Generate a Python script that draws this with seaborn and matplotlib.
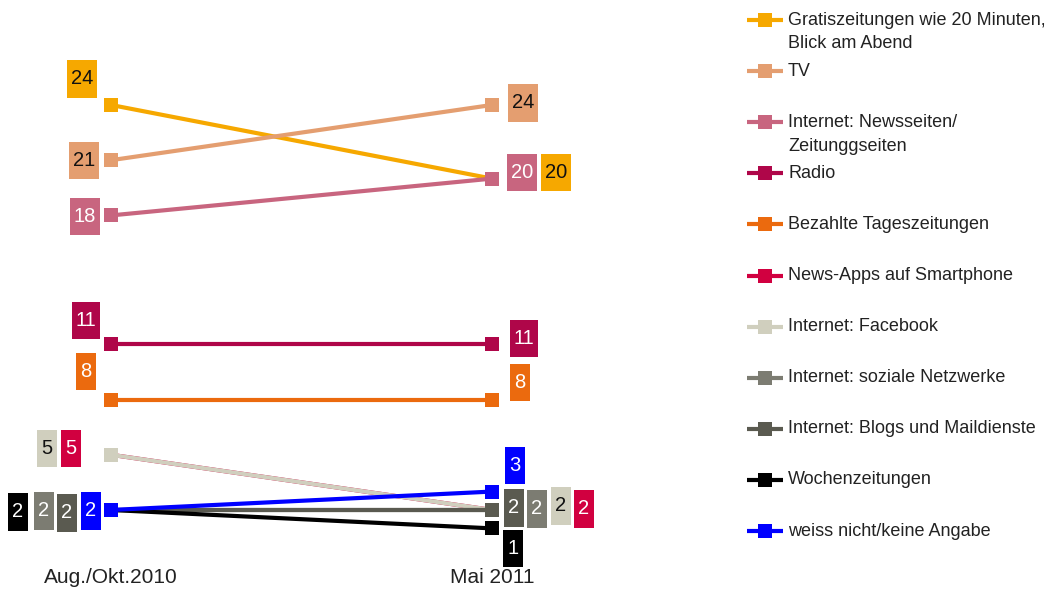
import numpy as np
import pandas as pd
import matplotlib
matplotlib.use("Agg")
import matplotlib.pyplot as plt
from matplotlib.path import Path
import seaborn as sns

# ==========================================
# Data
# ==========================================
periods = ["Aug./Okt.2010", "Mai 2011"]
series = [
    "Gratiszeitungen wie 20 Minuten,\nBlick am Abend",
    "TV",
    "Internet: Newsseiten/\nZeitunggseiten",
    "Radio",
    "Bezahlte Tageszeitungen",
    "News-Apps auf Smartphone",
    "Internet: Facebook",
    "Internet: soziale Netzwerke",
    "Internet: Blogs und Maildienste",
    "Wochenzeitungen",
    "weiss nicht/keine Angabe",
]
values_2010 = [24, 21, 18, 11, 8, 5, 5, 2, 2, 2, 2]
values_2011 = [20, 24, 20, 11, 8, 2, 2, 2, 2, 1, 3]

colors = ["#F6A800", "#E49E70", "#C8657F", "#AF0649", "#EB6A0E", "#D10040",
          "#D0CFBE", "#7C7C72", "#5A5A50", "#000000", "#0000FF"]
dark_text = {"#F6A800", "#E49E70", "#D0CFBE"}

# label offsets in pixels from the marker (left, right)
offsets_2010 = [(-29, 26), (-27, 0), (-26, -1), (-25, 24), (-25, 28), (-40, 6),
                (-64, 6), (-67, -1), (-44, -3), (-93, -2), (-20, -1)]
offsets_2011 = [(64, 6), (31, 2), (30, 6), (32, 6), (28, 17), (92, 1),
                (69, 4), (45, 1), (22, 2), (21, -20), (23, 26)]

df = pd.DataFrame({
    "series": series * 2,
    "t": [0] * len(series) + [1] * len(series),
    "value": values_2010 + values_2011,
})

sns.set_style("white")
plt.rcParams["font.family"] = ["Liberation Sans", "DejaVu Sans"]

W, H = 1049, 589
fig = plt.figure(figsize=(W / 100, H / 100), dpi=100)

# pixel -> data mapping
x0_px, x1_px = 111, 492
y0_px, unit_px = 546.8, 18.41
ax_bottom_px = 565
ax_w_px = 700
ax = fig.add_axes([0, (H - ax_bottom_px) / H, ax_w_px / W, ax_bottom_px / H])
ax.set_xlim(-x0_px / (x1_px - x0_px), (ax_w_px - x0_px) / (x1_px - x0_px))
ax.set_ylim((y0_px - ax_bottom_px) / unit_px, y0_px / unit_px)

sns.lineplot(data=df, x="t", y="value", hue="series", hue_order=series,
             palette=colors, marker="s", markersize=9.5, markeredgewidth=0,
             linewidth=3, legend=False, estimator=None, sort=False, ax=ax)


def tall_box(x0, y0, width, height, mutation_size):
    px = 0.2 * mutation_size
    py = 0.45 * mutation_size
    verts = [(x0 - px, y0 - py), (x0 + width + px, y0 - py),
             (x0 + width + px, y0 + height + py), (x0 - px, y0 + height + py),
             (x0 - px, y0 - py)]
    return Path(verts, closed=True)


for i, name in enumerate(series):
    col = colors[i]
    tcol = "#111111" if col in dark_text else "white"
    for t, vals, offs in [(0, values_2010, offsets_2010), (1, values_2011, offsets_2011)]:
        ax.annotate(str(vals[i]), xy=(t, vals[i]), xytext=offs[i],
                    textcoords="offset pixels", ha="center", va="center",
                    fontsize=14.5, color=tcol,
                    bbox=dict(boxstyle=tall_box, fc=col, ec="none"))

ax.set_xticks([0, 1])
ax.set_xticklabels(periods, fontsize=15, color="#222222")
ax.tick_params(axis="x", length=0, pad=2)
ax.set_yticks([])
ax.set_xlabel("")
ax.set_ylabel("")
sns.despine(ax=ax, left=True, bottom=True)

# ==========================================
# Legend (drawn by hand, handles aligned with first text line)
# ==========================================
lax = fig.add_axes([0, 0, 1, 1], zorder=-1)
lax.set_xlim(0, W)
lax.set_ylim(H, 0)
lax.axis("off")
for i, name in enumerate(series):
    y = 20 + 51.1 * i
    lax.plot([747, 783], [y, y], color=colors[i], lw=3, solid_capstyle="butt")
    lax.plot([765], [y], marker="s", markersize=10, color=colors[i], markeredgewidth=0)
    if "\n" in name:
        lax.text(788, y - 8, name, ha="left", va="top", fontsize=13,
                 color="#222222", linespacing=1.5)
    else:
        lax.text(788, y, name, ha="left", va="center", fontsize=13, color="#222222")

fig.savefig("out.png", dpi=100)
